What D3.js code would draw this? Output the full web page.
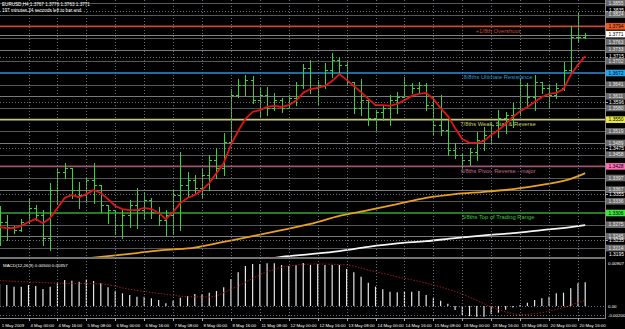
<!DOCTYPE html>
<html><head><meta charset="utf-8">
<script src="https://cdn.jsdelivr.net/npm/d3@7"></script>
<style>body{margin:0;background:#000;} svg{display:block;}</style>
</head><body><svg id="c" width="625" height="329"></svg>
<script>
// ---------------- DATA ----------------
const symbolTitle = "EURUSD,H4  1.3767 1.3776 1.3763 1.3771";
const timerText = "197 minutes 24 seconds left to bar end";
const macdTitle = "MACD(12,26,9) 0.00500 0.00357";
const timeLabels = ["1 May 2009","4 May 00:00","4 May 16:00","5 May 08:00","6 May 00:00","6 May 16:00","7 May 08:00",
  "8 May 00:00","8 May 16:00","11 May 08:00","12 May 00:00","12 May 16:00","13 May 08:00","14 May 00:00",
  "14 May 16:00","15 May 08:00","18 May 00:00","18 May 16:00","19 May 08:00","20 May 00:00","20 May 16:00"];
const opens = [1.3274,1.3282,1.3270,1.3261,1.3282,1.3319,1.3300,1.3240,1.3366,1.3413,
 1.3423,1.3366,1.3353,1.3392,1.3379,1.3326,1.3313,1.3274,1.3300,1.3326,
 1.3313,1.3340,1.3308,1.3287,1.3300,1.3353,1.3379,1.3392,1.3371,1.3405,
 1.3444,1.3423,1.3491,1.3614,1.3640,1.3654,1.3601,1.3614,1.3580,1.3601,
 1.3580,1.3606,1.3640,1.3685,1.3633,1.3640,1.3680,1.3706,1.3693,1.3648,
 1.3580,1.3601,1.3554,1.3570,1.3580,1.3601,1.3609,1.3640,1.3633,1.3640,
 1.3588,1.3536,1.3523,1.3470,1.3457,1.3444,1.3465,1.3497,1.3510,1.3536,
 1.3554,1.3562,1.3580,1.3640,1.3609,1.3648,1.3633,1.3614,1.3633,1.3680,
 1.3766,1.3767];
const highs = [1.3324,1.3300,1.3272,1.3290,1.3345,1.3326,1.3313,1.3384,1.3421,1.3436,
 1.3423,1.3387,1.3400,1.3436,1.3379,1.3326,1.3313,1.3313,1.3340,1.3371,
 1.3358,1.3345,1.3321,1.3313,1.3366,1.3465,1.3413,1.3405,1.3423,1.3457,
 1.3476,1.3515,1.3630,1.3656,1.3667,1.3664,1.3635,1.3635,1.3620,1.3606,
 1.3614,1.3648,1.3695,1.3706,1.3654,1.3698,1.3724,1.3714,1.3701,1.3648,
 1.3656,1.3601,1.3575,1.3588,1.3614,1.3622,1.3661,1.3646,1.3648,1.3646,
 1.3609,1.3614,1.3549,1.3489,1.3463,1.3476,1.3517,1.3531,1.3544,1.3575,
 1.3570,1.3593,1.3659,1.3646,1.3667,1.3648,1.3640,1.3646,1.3701,1.3795,
 1.3829,1.3776];
const lows = [1.3222,1.3235,1.3253,1.3258,1.3279,1.3287,1.3222,1.3209,1.3332,1.3397,
 1.3345,1.3319,1.3334,1.3332,1.3308,1.3279,1.3253,1.3240,1.3269,1.3266,
 1.3293,1.3293,1.3274,1.3248,1.3253,1.3261,1.3347,1.3358,1.3345,1.3366,
 1.3397,1.3405,1.3489,1.3609,1.3614,1.3593,1.3557,1.3562,1.3575,1.3570,
 1.3580,1.3588,1.3633,1.3620,1.3588,1.3633,1.3661,1.3672,1.3640,1.3567,
 1.3562,1.3536,1.3523,1.3549,1.3536,1.3567,1.3609,1.3620,1.3622,1.3575,
 1.3510,1.3510,1.3457,1.3449,1.3426,1.3431,1.3444,1.3470,1.3491,1.3504,
 1.3515,1.3531,1.3562,1.3583,1.3575,1.3620,1.3583,1.3606,1.3627,1.3674,
 1.3753,1.3763];
const closes = [1.3282,1.3270,1.3261,1.3282,1.3319,1.3300,1.3240,1.3366,1.3413,1.3423,
 1.3366,1.3353,1.3392,1.3379,1.3326,1.3313,1.3274,1.3300,1.3326,1.3313,
 1.3340,1.3308,1.3287,1.3300,1.3353,1.3379,1.3392,1.3371,1.3405,1.3444,
 1.3423,1.3491,1.3614,1.3640,1.3654,1.3601,1.3614,1.3580,1.3601,1.3580,
 1.3606,1.3640,1.3685,1.3633,1.3640,1.3680,1.3706,1.3693,1.3648,1.3580,
 1.3601,1.3554,1.3570,1.3580,1.3601,1.3609,1.3640,1.3633,1.3640,1.3588,
 1.3536,1.3523,1.3470,1.3457,1.3444,1.3465,1.3497,1.3510,1.3536,1.3554,
 1.3562,1.3580,1.3640,1.3609,1.3648,1.3633,1.3614,1.3633,1.3680,1.3766,
 1.3767,1.3771];
const maFast = [1.3269,1.3266,1.3266,1.3272,1.3282,1.3290,1.3279,1.3293,1.3319,1.3345,
 1.3353,1.3347,1.3355,1.3366,1.3358,1.3342,1.3324,1.3316,1.3313,1.3313,
 1.3319,1.3316,1.3306,1.3290,1.3308,1.3332,1.3345,1.3353,1.3366,1.3384,
 1.3410,1.3436,1.3484,1.3520,1.3552,1.3570,1.3575,1.3583,1.3586,1.3583,
 1.3588,1.3599,1.3620,1.3630,1.3633,1.3638,1.3651,1.3669,1.3654,1.3638,
 1.3622,1.3604,1.3588,1.3588,1.3586,1.3591,1.3601,1.3612,1.3617,1.3620,
 1.3604,1.3580,1.3559,1.3528,1.3499,1.3489,1.3489,1.3494,1.3510,1.3523,
 1.3538,1.3557,1.3572,1.3583,1.3596,1.3609,1.3617,1.3620,1.3630,1.3667,
 1.3693,1.3716];
const maMidBars = [11,15,19,23,27,31,35,39,43,47,51,55,59,63,67,71,75,79,81];
const maMid = [1.3185,1.3193,1.3201,1.3209,1.3215,1.3230,1.3245,1.3261,1.3277,1.3298,
 1.3313,1.3329,1.3345,1.3355,1.3361,1.3368,1.3379,1.3395,1.3410];
const maSlowBars = [37,39,43,47,51,55,59,63,67,71,75,79,81];
const maSlow = [1.3185,1.3191,1.3198,1.3206,1.3217,1.3226,1.3232,1.3240,1.3247,1.3253,1.3261,1.3269,1.3274];
const macdHist = [0.00464,0.00443,0.00407,0.00407,0.00443,0.00422,0.00359,0.00407,0.00491,0.00548,
 0.00534,0.00513,0.00548,0.00527,0.00479,0.00394,0.00323,0.00268,0.00232,0.00196,
 0.00196,0.00162,0.00127,0.00057,0.00112,0.00175,0.00211,0.00253,0.00247,0.00281,
 0.00316,0.00394,0.00570,0.00711,0.00844,0.00886,0.00886,0.00900,0.00900,0.00865,
 0.00844,0.00865,0.00907,0.00865,0.00886,0.00865,0.00865,0.00865,0.00780,0.00711,
 0.00618,0.00491,0.00407,0.00352,0.00302,0.00289,0.00302,0.00302,0.00316,0.00232,
 0.00162,0.00112,0.00050,-0.00084,-0.00190,-0.00211,-0.00226,-0.00226,-0.00169,-0.00141,
 -0.00080,-0.00030,0.00020,0.00070,0.00127,0.00162,0.00196,0.00268,0.00281,0.00373,
 0.00479,0.00500];
const macdSigBars = [0,5,9,14,18,23,26,29,32,37,40,44,48,51,55,60,64,66,68,70,72,74,76,78,80,81];
const macdSig = [0.00534,0.00500,0.00479,0.00464,0.00352,0.00247,0.00196,0.00190,0.00352,0.00723,
 0.00844,0.00886,0.00865,0.00759,0.00618,0.00443,0.00250,0.00120,-0.00020,-0.00120,
 -0.00180,-0.00160,-0.00110,-0.00030,0.00070,0.00120];
const levelValues = [1.37939,1.36719,1.35498,1.34277,1.33057];
const levelNames = ["+1/8th Overshoot","8/8ths Ultimate Resistance","7/8ths Weak, Stall & Reverse",
  "6/8ths Pivot, Reverse - major","5/8ths Top of Trading Range"];
const minorLevels = [1.38550,1.38245,1.37634,1.37329,1.37024,1.36414,1.36108,1.35803,1.35193,
  1.34888,1.34583,1.33972,1.33667,1.33362,1.32751,1.32446,1.32141];
const midLevels = [1.37329,1.36108,1.34888,1.33667,1.32446];
const priceTicks = [1.3835,1.3715,1.3596,1.3475,1.3355,1.3235];
const priceMinLabel = 1.3195;
const bidPrice = 1.3771;
const macdTicks = [0.00907,0,-0.00200];
const macdTickLabels = ["0.00907","0.00","-0.00200"];

// ---------------- DRAW ----------------
const svg = d3.select("#c");
const FONT = "'Liberation Sans', Arial, sans-serif";
const plotR = 605;
svg.append("rect").attr("width",625).attr("height",329).attr("fill","#000");
const defs = svg.append("defs");
defs.append("clipPath").attr("id","mc").append("rect").attr("x",0).attr("y",0).attr("width",plotR).attr("height",257);
defs.append("clipPath").attr("id","dc").append("rect").attr("x",0).attr("y",259).attr("width",plotR).attr("height",59);

const x = d3.scaleLinear().domain([0,81]).range([-0.42,585.21]);
const y = d3.scaleLinear().domain([1.31906,1.38628]).range([257,0]);
const ym = d3.scaleLinear().domain([-0.00253,0.00991]).range([318,259]);
const px = v => Math.round(v)+0.5;

const main = svg.append("g").attr("clip-path","url(#mc)");
const sub = svg.append("g").attr("clip-path","url(#dc)");

// grid
const gridBars = timeLabels.map((d,k)=> k===0 ? 0 : 4*k);
gridBars.slice(1).forEach(i=>{
  svg.append("line").attr("x1",px(x(i))).attr("x2",px(x(i))).attr("y1",0).attr("y2",318)
    .attr("stroke","#66707c").attr("stroke-dasharray","1,2");
});
priceTicks.forEach(t=>{
  main.append("line").attr("x1",0).attr("x2",plotR).attr("y1",px(y(t))).attr("y2",px(y(t)))
    .attr("stroke","#66707c").attr("stroke-dasharray","1,2");
});
macdTicks.slice(1).forEach(t=>{
  sub.append("line").attr("x1",0).attr("x2",plotR).attr("y1",px(ym(t))).attr("y2",px(ym(t)))
    .attr("stroke","#66707c").attr("stroke-dasharray","1,2");
});

// minor levels
minorLevels.forEach(v=>{
  const isMid = midLevels.includes(v);
  main.append("line").attr("x1",0).attr("x2",plotR).attr("y1",px(y(v))).attr("y2",px(y(v)))
    .attr("stroke", isMid ? "#7a7a7a" : "#575757").attr("stroke-width",1);
});
main.append("line").attr("x1",0).attr("x2",plotR).attr("y1",px(y(bidPrice))).attr("y2",px(y(bidPrice)))
  .attr("stroke","#808080");

const lvlLine = ["#c44a30","#2f8fcf","#c8c87a","#a4506f","#33a633"];
const lvlText = ["#cf4a28","#3f93c8","#cfcf70","#c86a94","#3fc83f"];
const lvlBox = ["#f05a1e","#1ea6ef","#e8e84a","#ff6fb5","#3ee63e"];
levelValues.forEach((v,k)=>{
  main.append("line").attr("x1",0).attr("x2",plotR).attr("y1",y(v)).attr("y2",y(v))
    .attr("stroke",lvlLine[k]).attr("stroke-width",1.6);
  main.append("text").attr("x",498).attr("y",y(v)+6.5).attr("text-anchor","middle")
    .attr("font-family",FONT).attr("font-size",5.8).attr("fill",lvlText[k]).text(levelNames[k]);
});

// slow MAs
const lineMid = d3.line().x((d,k)=>x(maMidBars[k])).y(d=>y(d)).curve(d3.curveMonotoneX);
main.append("path").attr("d",lineMid(maMid)).attr("fill","none").attr("stroke","#e8a020").attr("stroke-width",1.8);
const lineSlow = d3.line().x((d,k)=>x(maSlowBars[k])).y(d=>y(d)).curve(d3.curveMonotoneX);
main.append("path").attr("d",lineSlow(maSlow)).attr("fill","none").attr("stroke","#f4f4f4").attr("stroke-width",1.8);

// OHLC bars
let bp = "";
opens.forEach((o,i)=>{
  const xi = px(x(i));
  bp += `M${xi},${Math.round(y(highs[i]))}V${Math.round(y(lows[i]))+1}`;
  bp += `M${xi-2.5},${px(y(o))}H${xi}`;
  bp += `M${xi},${px(y(closes[i]))}H${xi+2.5}`;
});
main.append("path").attr("d",bp).attr("fill","none").attr("stroke","#3ad23a").attr("stroke-width",1)
  .attr("shape-rendering","crispEdges");

// fast MA
const lineFast = d3.line().x((d,i)=>x(i)).y(d=>y(d));
main.append("path").attr("d",lineFast(maFast)).attr("fill","none").attr("stroke","#e41414").attr("stroke-width",1.8);

// MACD
macdHist.forEach((v,i)=>{
  sub.append("line").attr("x1",x(i)).attr("x2",x(i)).attr("y1",ym(0)).attr("y2",ym(v))
    .attr("stroke","#e6e6e6").attr("stroke-width",1.2);
});
const lineSig = d3.line().x((d,k)=>x(macdSigBars[k])).y(d=>ym(d)).curve(d3.curveMonotoneX);
sub.append("path").attr("d",lineSig(macdSig)).attr("fill","none").attr("stroke","#a01818")
  .attr("stroke-width",1).attr("stroke-dasharray","1.5,1.5");

// frame
svg.append("line").attr("x1",0).attr("x2",plotR).attr("y1",258).attr("y2",258).attr("stroke","#9a9a9a").attr("stroke-width",1.5);
svg.append("line").attr("x1",0).attr("x2",plotR+0.5).attr("y1",318.5).attr("y2",318.5).attr("stroke","#8a8a8a");
svg.append("line").attr("x1",plotR+0.5).attr("x2",plotR+0.5).attr("y1",0).attr("y2",319).attr("stroke","#8a8a8a");

// titles
svg.append("text").attr("x",2).attr("y",6).attr("font-family",FONT).attr("font-size",4.6).attr("fill","#fff").text(symbolTitle);
svg.append("text").attr("x",2).attr("y",11.5).attr("font-family",FONT).attr("font-size",4.6).attr("fill","#fff").text(timerText);
svg.append("text").attr("x",3).attr("y",267).attr("font-family",FONT).attr("font-size",4.4).attr("fill","#fff").text(macdTitle);

// price axis
const ax = svg.append("g").attr("font-family",FONT).attr("font-size",4.9);
const yBid = y(bidPrice);
function box(v, fill, tcol, label, yy){
  ax.append("rect").attr("x",606).attr("y",yy-3.3).attr("width",19).attr("height",6.6).attr("fill",fill);
  ax.append("text").attr("x",608.5).attr("y",yy+1.8).attr("fill",tcol).text(label);
}
minorLevels.forEach(v=>{
  let yy = y(v);
  if (Math.abs(yy - yBid) < 6.6) yy = yBid + 6.8;
  box(v,"#6a6a6a","#e6e6e6",v.toFixed(4),yy);
});
priceTicks.forEach(t=>{
  ax.append("line").attr("x1",605).attr("x2",608).attr("y1",px(y(t))).attr("y2",px(y(t))).attr("stroke","#aaa");
  ax.append("text").attr("x",609).attr("y",y(t)+1.8).attr("fill","#fff").text(t.toFixed(4));
});
ax.append("text").attr("x",609).attr("y",y(priceMinLabel)+0.5).attr("fill","#fff").text(priceMinLabel.toFixed(4));
levelValues.forEach((v,k)=>box(v,lvlBox[k],"#000",v.toFixed(4),y(v)));
box(bidPrice,"#ffffff","#000",bidPrice.toFixed(4),yBid - 1);

// macd axis
macdTicks.forEach((t,k)=>{
  ax.append("text").attr("x",608).attr("y",ym(t)+1.8).attr("font-size",4.4).attr("fill","#fff").text(macdTickLabels[k]);
});

// time axis
timeLabels.forEach((lab,k)=>{
  const xi = k===0 ? 0.7 : px(x(gridBars[k]));
  if(k>0) svg.append("line").attr("x1",xi).attr("x2",xi).attr("y1",318).attr("y2",321).attr("stroke","#aaa");
  svg.append("text").attr("x",xi+1).attr("y",326.5).attr("font-family",FONT).attr("font-size",4.3)
    .attr("fill","#fff").text(lab);
});
</script></body></html>
